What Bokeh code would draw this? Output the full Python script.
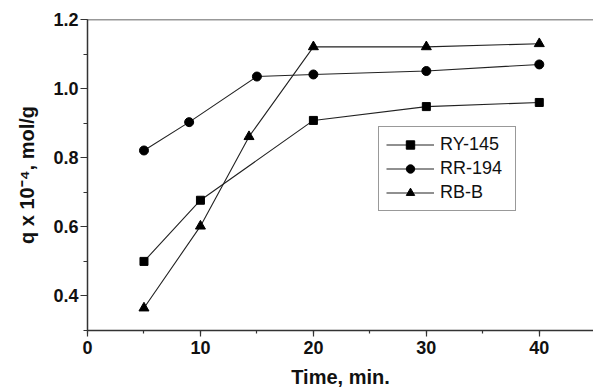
from bokeh.plotting import figure
from bokeh.models import SingleIntervalTicker, Span, Range1d, NumeralTickFormatter
from bokeh.embed import file_html
from bokeh.resources import INLINE

# Data
time_ry = [5, 10, 20, 30, 40]
q_ry = [0.500, 0.677, 0.908, 0.948, 0.960]

time_rr = [5, 9, 15, 20, 30, 40]
q_rr = [0.821, 0.903, 1.035, 1.041, 1.051, 1.070]

time_rb = [5, 10, 14.3, 20, 30, 40]
q_rb = [0.365, 0.602, 0.861, 1.121, 1.121, 1.130]

x_label = "Time, min."
y_label = "q x 10\u207b\u2074, mol/g"

FONT = "Liberation Sans"
LINE = "#222222"
AX = "#333333"

p = figure(width=593, height=390, output_backend="svg", toolbar_location=None,
           x_range=Range1d(0, 44.8), y_range=Range1d(0.3, 1.2001),
           min_border_left=87, min_border_right=0, min_border_top=19, min_border_bottom=59)
p.outline_line_color = None
p.xgrid.visible = False
p.ygrid.visible = False
p.background_fill_color = "white"
p.border_fill_color = "white"

p.line(time_ry, q_ry, line_color=LINE, line_width=1.1, legend_label="RY-145")
p.scatter(time_ry, q_ry, marker="square", size=8, fill_color="black", line_color="black", legend_label="RY-145")

p.line(time_rr, q_rr, line_color=LINE, line_width=1.1, legend_label="RR-194")
p.scatter(time_rr, q_rr, marker="circle", size=9, fill_color="black", line_color="black", legend_label="RR-194")

p.line(time_rb, q_rb, line_color=LINE, line_width=1.1, legend_label="RB-B")
p.scatter(time_rb, q_rb, marker="triangle", size=10, fill_color="black", line_color="black", legend_label="RB-B")

# top frame line
p.add_layout(Span(location=1.2001, dimension="width", line_color=AX, line_width=1.5))

xa = p.xaxis[0]
xa.ticker = SingleIntervalTicker(interval=10, num_minor_ticks=2)
ya = p.yaxis[0]
ya.ticker = SingleIntervalTicker(interval=0.2, num_minor_ticks=2)
ya.formatter = NumeralTickFormatter(format="0.0")

for ax in (xa, ya):
    ax.axis_line_color = AX
    ax.axis_line_width = 1.5
    ax.major_tick_line_color = AX
    ax.minor_tick_line_color = AX
    ax.major_tick_line_width = 1.2
    ax.minor_tick_line_width = 1.2
    ax.major_tick_in = 0
    ax.minor_tick_in = 0
    ax.major_label_text_font = FONT
    ax.major_label_text_font_style = "bold"
    ax.major_label_text_font_size = "18px"
    ax.major_label_text_color = "#111111"
    ax.axis_label_text_font = FONT
    ax.axis_label_text_font_style = "bold"
    ax.axis_label_text_font_size = "20px"
    ax.axis_label_text_color = "#111111"

xa.major_tick_out = 6
xa.minor_tick_out = 3
xa.major_label_standoff = 4
xa.axis_label = x_label
xa.axis_label_standoff = 9

ya.major_tick_out = 7
ya.minor_tick_out = 4
ya.major_label_standoff = 2
ya.axis_label = y_label
ya.axis_label_standoff = 12

lg = p.legend[0]
lg.location = (291, 119)
lg.border_line_color = AX
lg.border_line_width = 1
lg.background_fill_color = "white"
lg.background_fill_alpha = 1
lg.label_text_font = FONT
lg.label_text_font_size = "18px"
lg.label_text_color = "#111111"
lg.glyph_width = 48
lg.glyph_height = 21
lg.label_height = 21
lg.label_width = 68
lg.label_standoff = 6
lg.spacing = 3
lg.padding = 7
lg.margin = 0

open("out.html", "w").write(file_html(p, INLINE))
